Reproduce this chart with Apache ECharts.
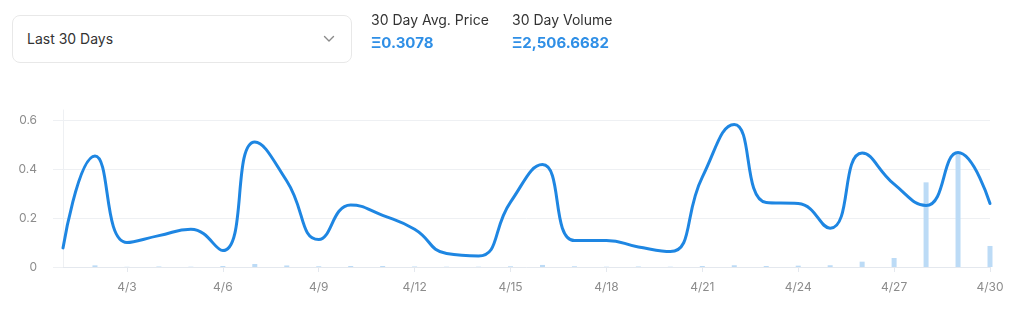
<!DOCTYPE html>
<html>
<head>
<meta charset="utf-8">
<title>30 Day Price &amp; Volume</title>
<script src="https://cdn.jsdelivr.net/npm/echarts@6/dist/echarts.min.js"></script>
<style>
  html, body { margin: 0; padding: 0; background: #fff; width: 1024px; height: 331px; overflow: hidden;
    font-family: Inter, "Noto Sans", sans-serif; }
  #chart { position: absolute; left: 0; top: 0; width: 1024px; height: 331px; }
  .select { position: absolute; left: 12px; top: 15px; width: 338px; height: 46px; border: 1px solid #e8e8e8;
    border-radius: 8px; z-index: 2; background: #fff; }
  .select .txt { position: absolute; left: 14px; top: 0; line-height: 46px; font-size: 14px; color: #333; }
  .select svg { position: absolute; left: 310px; top: 19px; }
  .stat { position: absolute; z-index: 2; }
  .stat .lbl { font-size: 14px; line-height: 18px; color: #333; white-space: nowrap; }
  .stat .val { font-size: 15px; line-height: 18px; font-weight: 700; color: #2f8fe6; margin-top: 5px; white-space: nowrap; }
</style>
</head>
<body>
<div id="chart"></div>
<div class="select">
  <span class="txt">Last 30 Days</span>
  <svg width="12" height="8" viewBox="0 0 12 8"><polyline points="1.5,1.5 6,6 10.5,1.5" fill="none" stroke="#8a8a8a" stroke-width="1.4" stroke-linecap="round" stroke-linejoin="round"/></svg>
</div>
<div class="stat" style="left:371px; top:11px;">
  <div class="lbl">30 Day Avg. Price</div>
  <div class="val">Ξ0.3078</div>
</div>
<div class="stat" style="left:512px; top:11px;">
  <div class="lbl">30 Day Volume</div>
  <div class="val">Ξ2,506.6682</div>
</div>
<script>
// Daily categories
const dates = ['4/1','4/2','4/3','4/4','4/5','4/6','4/7','4/8','4/9','4/10',
               '4/11','4/12','4/13','4/14','4/15','4/16','4/17','4/18','4/19','4/20',
               '4/21','4/22','4/23','4/24','4/25','4/26','4/27','4/28','4/29','4/30'];

// Average sale price per day (ETH)
const avgPrice = [0.078, 0.453, 0.100, 0.128, 0.154, 0.067, 0.510, 0.351, 0.112, 0.253,
                  0.211, 0.154, 0.055, 0.045, 0.265, 0.418, 0.108, 0.108, 0.082, 0.063,
                  0.367, 0.582, 0.263, 0.259, 0.158, 0.465, 0.338, 0.251, 0.467, 0.259];

// Traded volume per day (ETH)
const volume = [0, 16, 2, 5, 3, 10, 29, 15, 7, 10,
                10, 5, 3, 3, 7, 20, 7, 3, 5, 3,
                10, 17, 10, 13, 17, 52, 88, 825, 1107, 205];

// Price axis ticks
const priceTicks = [0, 0.2, 0.4, 0.6];

const gridLine = '#eef0f3';
const axisGray = '#e4e8ee';
const labelGray = '#8c8c8c';
const showEveryThird = (idx) => (idx + 1) % 3 === 0;

const chart = echarts.init(document.getElementById('chart'), null, { renderer: 'canvas' });
chart.setOption({
  animation: false,
  textStyle: { fontFamily: 'Inter, "Noto Sans", sans-serif' },
  grid: [
    { left: 63, right: 34, top: 120, bottom: 64 },
    { left: 63, right: 34, top: 110, bottom: 64 }
  ],
  xAxis: [
    {
      gridIndex: 0, type: 'category', data: dates, boundaryGap: false,
      axisLine: { lineStyle: { color: axisGray, width: 1 } },
      axisTick: { show: true, interval: showEveryThird, length: 5, lineStyle: { color: axisGray } },
      axisLabel: { interval: showEveryThird, color: labelGray, fontSize: 12, margin: 14 },
      splitLine: { show: false }
    },
    {
      gridIndex: 1, type: 'category', data: dates, boundaryGap: false,
      axisLine: { show: false }, axisTick: { show: false }, axisLabel: { show: false }
    }
  ],
  yAxis: [
    {
      gridIndex: 0, type: 'value',
      min: priceTicks[0], max: priceTicks[priceTicks.length - 1], interval: 0.2,
      axisLine: { show: false },
      axisTick: { show: true, length: 10, lineStyle: { color: gridLine } },
      axisLabel: { color: labelGray, fontSize: 12, margin: 26,
                   formatter: (v) => (v === 0 ? '0' : v.toFixed(1)) },
      splitLine: { show: true, lineStyle: { color: gridLine, width: 1 } }
    },
    {
      gridIndex: 1, type: 'value', min: 0, max: 1530,
      axisLine: { show: true, lineStyle: { color: gridLine, width: 1 } },
      axisTick: { show: false }, axisLabel: { show: false }, splitLine: { show: false }
    }
  ],
  series: [
    {
      name: 'Volume', type: 'bar', xAxisIndex: 1, yAxisIndex: 1,
      data: volume, barWidth: 5, clip: false, z: 1,
      itemStyle: { color: '#bcdbf6' }
    },
    {
      name: 'Avg. Price', type: 'line', xAxisIndex: 0, yAxisIndex: 0,
      data: avgPrice, smooth: 0.5, symbol: 'none', z: 3,
      lineStyle: { color: '#1e86e2', width: 3, cap: 'round', join: 'round' }
    }
  ]
});
</script>
</body>
</html>
